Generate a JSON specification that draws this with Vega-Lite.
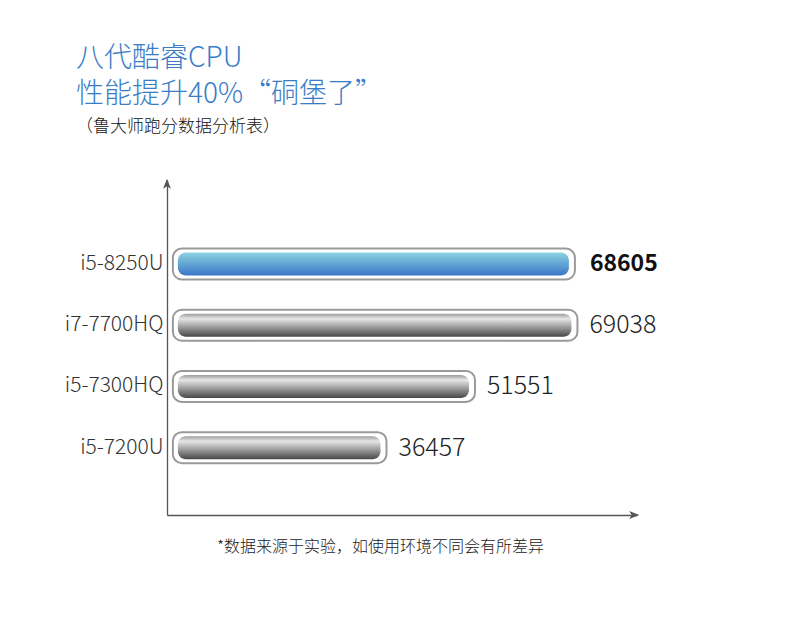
{
  "$schema": "https://vega.github.io/schema/vega-lite/v6.json",
  "autosize": {"type": "none"},
  "padding": {"left": 167, "top": 180, "right": 153, "bottom": 119},
  "width": 470,
  "height": 335,
  "background": "white",
  "config": {"view": {"stroke": null}},
  "title": {
    "text": ["八代酷睿CPU", "性能提升40%“硐堡了”"],
    "subtitle": "（鲁大师跑分数据分析表）",
    "anchor": "start",
    "frame": "group",
    "dx": -91,
    "offset": 44,
    "font": "Noto Sans CJK SC",
    "fontSize": 28,
    "fontWeight": 300,
    "lineHeight": 36,
    "color": "#3a7dc6",
    "subtitleFont": "Noto Sans CJK SC",
    "subtitleFontSize": 17,
    "subtitleFontWeight": 300,
    "subtitleColor": "#111",
    "subtitlePadding": 10
  },
  "data": {
    "values": [
      {"cpu": "i5-8250U", "score": 68605},
      {"cpu": "i7-7700HQ", "score": 69038},
      {"cpu": "i5-7300HQ", "score": 51551},
      {"cpu": "i5-7200U", "score": 36457}
    ]
  },
  "encoding": {
    "y": {
      "field": "cpu",
      "type": "nominal",
      "sort": null,
      "scale": {"paddingInner": 0.5, "paddingOuter": 0.987, "align": 0.569},
      "axis": {
        "title": null,
        "ticks": false,
        "domainColor": "#555",
        "domainWidth": 1.3,
        "labelFont": "Noto Sans CJK SC",
        "labelFontWeight": 300,
        "labelFontSize": 21,
        "labelColor": "#333",
        "labelPadding": 4
      }
    }
  },
  "layer": [
    {
      "mark": {"type": "bar", "height": 31, "cornerRadius": 9, "fill": "white", "stroke": "#9a9a9a", "strokeWidth": 2},
      "encoding": {
        "x": {
          "field": "score",
          "type": "quantitative",
          "scale": {"domain": [-1000, 79200], "nice": false, "zero": false},
          "axis": {
            "title": "*数据来源于实验，如使用环境不同会有所差异",
            "titleFont": "Noto Sans CJK SC",
            "titleFontWeight": 300,
            "titleFontSize": 16,
            "titleColor": "#222",
            "titleX": 213,
            "titleY": 31,
            "titleAlign": "center",
            "titleBaseline": "middle",
            "labels": false,
            "ticks": false,
            "grid": false,
            "domainColor": "#555",
            "domainWidth": 1.3
          }
        },
        "x2": {"datum": 0}
      }
    },
    {
      "transform": [{"filter": "datum.cpu == 'i5-8250U'"}],
      "mark": {
        "type": "bar",
        "height": 23,
        "cornerRadius": 8,
        "xOffset": -6,
        "x2Offset": 5,
        "fill": {
          "gradient": "linear", "x1": 0, "y1": 0, "x2": 0, "y2": 1,
          "stops": [
            {"offset": 0, "color": "#8ad3e2"},
            {"offset": 1, "color": "#3a76c6"}
          ]
        }
      },
      "encoding": {
        "x": {"field": "score", "type": "quantitative"},
        "x2": {"datum": 0}
      }
    },
    {
      "transform": [{"filter": "datum.cpu != 'i5-8250U'"}],
      "mark": {
        "type": "bar",
        "height": 23,
        "cornerRadius": 8,
        "xOffset": -6,
        "x2Offset": 5,
        "fill": {
          "gradient": "linear", "x1": 0, "y1": 0, "x2": 0, "y2": 1,
          "stops": [
            {"offset": 0, "color": "#9c9c9c"},
            {"offset": 0.22, "color": "#e6e6e6"},
            {"offset": 1, "color": "#484848"}
          ]
        }
      },
      "encoding": {
        "x": {"field": "score", "type": "quantitative"},
        "x2": {"datum": 0}
      }
    },
    {
      "transform": [{"filter": "datum.cpu == 'i5-8250U'"}],
      "mark": {"type": "text", "align": "left", "baseline": "middle", "dx": 15, "font": "Noto Sans CJK SC", "fontSize": 23, "fontWeight": "bold", "color": "#111"},
      "encoding": {
        "x": {"field": "score", "type": "quantitative"},
        "text": {"field": "score", "type": "quantitative", "format": "d"}
      }
    },
    {
      "transform": [{"filter": "datum.cpu != 'i5-8250U'"}],
      "mark": {"type": "text", "align": "left", "baseline": "middle", "dx": 12, "font": "Noto Sans CJK SC", "fontSize": 25, "fontWeight": 300, "color": "#222"},
      "encoding": {
        "x": {"field": "score", "type": "quantitative"},
        "text": {"field": "score", "type": "quantitative", "format": "d"}
      }
    },
    {
      "data": {"values": [{}]},
      "mark": {"type": "point", "shape": "M0,-1L0.75,0.9L0,0.45L-0.75,0.9Z", "size": 110, "filled": true, "color": "#555", "opacity": 1, "yOffset": 4},
      "encoding": {
        "x": {"datum": -1000},
        "y": {"value": 0}
      }
    },
    {
      "data": {"values": [{}]},
      "mark": {"type": "point", "shape": "M1,0L-0.9,-0.75L-0.45,0L-0.9,0.75Z", "size": 110, "filled": true, "color": "#555", "opacity": 1, "xOffset": -3},
      "encoding": {
        "x": {"datum": 79200},
        "y": {"value": "height"}
      }
    }
  ]
}
